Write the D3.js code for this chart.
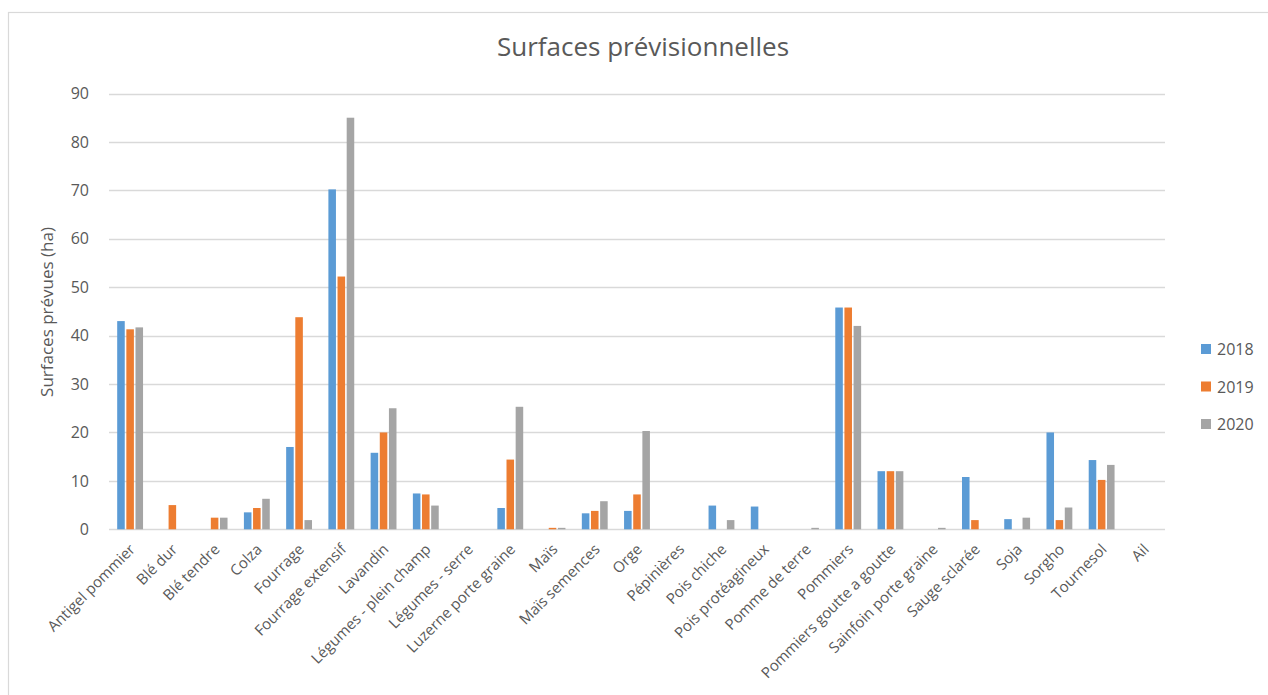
<!DOCTYPE html>
<html>
<head>
<meta charset="utf-8">
<script src="https://cdn.jsdelivr.net/npm/d3@7"></script>
<style>
  html, body { margin: 0; padding: 0; background: #fff; }
  svg { display: block; }
  text { font-family: "Open Sans", "Noto Sans", sans-serif; fill: #595959; }
</style>
</head>
<body>
<svg id="chart" width="1268" height="695"></svg>
<script>
// Cultures (x axis)
const categories = [
  "Antigel pommier", "Blé dur", "Blé tendre", "Colza", "Fourrage",
  "Fourrage extensif", "Lavandin", "Légumes - plein champ", "Légumes - serre",
  "Luzerne porte graine", "Maïs", "Maïs semences", "Orge", "Pépinières",
  "Pois chiche", "Pois protéagineux", "Pomme de terre", "Pommiers",
  "Pommiers goutte a goutte", "Sainfoin porte graine", "Sauge sclarée",
  "Soja", "Sorgho", "Tournesol", "Ail"
];

// Surfaces prévues (ha) par année
const years = ["2018", "2019", "2020"];
const values2018 = [43, 0, 0, 3.5, 17, 70.2, 15.8, 7.4, 0, 4.4, 0, 3.3, 3.8, 0, 4.9, 4.7, 0, 45.8, 12, 0, 10.8, 2.1, 20, 14.3, 0];
const values2019 = [41.3, 5, 2.4, 4.4, 43.8, 52.2, 20, 7.2, 0, 14.4, 0.3, 3.8, 7.2, 0, 0, 0, 0, 45.8, 12, 0, 1.9, 0, 1.9, 10.2, 0];
const values2020 = [41.7, 0, 2.4, 6.3, 1.9, 85, 25, 4.9, 0, 25.3, 0.3, 5.8, 20.3, 0, 1.9, 0, 0.3, 42, 12, 0.3, 0, 2.4, 4.5, 13.3, 0];
const yTicks = [0, 10, 20, 30, 40, 50, 60, 70, 80, 90];

const colors = ["#5B9BD5", "#ED7D31", "#A5A5A5"];
const series = [values2018, values2019, values2020];

const svg = d3.select("#chart");

// chart frame (extends past the right and bottom edges)
svg.append("rect")
  .attr("x", 8.5).attr("y", 12.5)
  .attr("width", 1300).attr("height", 700)
  .attr("fill", "none").attr("stroke", "#D9D9D9").attr("stroke-width", 1.2);

const plot = { left: 109, right: 1165, top: 93.5, bottom: 529.3 };

const x0 = d3.scaleBand()
  .domain(categories)
  .range([plot.left, plot.right])
  .paddingInner(0.35)
  .paddingOuter(0.175);

const x1 = d3.scaleBand()
  .domain(years)
  .range([0, x0.bandwidth()]);

const y = d3.scaleLinear()
  .domain([0, 90])
  .range([plot.bottom, plot.top]);

// horizontal gridlines
svg.append("g")
  .selectAll("line")
  .data(yTicks)
  .join("line")
  .attr("x1", plot.left).attr("x2", plot.right)
  .attr("y1", d => Math.round(y(d)) + 0.5)
  .attr("y2", d => Math.round(y(d)) + 0.5)
  .attr("stroke", "#D9D9D9")
  .attr("stroke-width", 1.3);

// y axis labels
const yAxis = d3.axisLeft(y).tickValues(yTicks).tickSize(0).tickPadding(0);
const gy = svg.append("g")
  .attr("transform", `translate(${plot.left - 20},0)`)
  .call(yAxis);
gy.select(".domain").remove();
gy.selectAll("text")
  .style("font-family", "'Open Sans', sans-serif")
  .style("font-size", "16px")
  .attr("fill", "#595959");

// bars
const groups = svg.append("g")
  .selectAll("g")
  .data(categories)
  .join("g")
  .attr("transform", d => `translate(${x0(d)},0)`);

groups.selectAll("rect")
  .data((c, i) => years.map((yr, k) => ({ yr, k, v: series[k][i] })))
  .join("rect")
  .filter(d => d.v > 0)
  .attr("x", d => x1(d.yr) + 0.8)
  .attr("width", x1.bandwidth() - 1.6)
  .attr("y", d => y(d.v))
  .attr("height", d => y(0) - y(d.v))
  .attr("fill", d => colors[d.k]);

// x axis labels
const xAxis = d3.axisBottom(x0).tickSize(0).tickPadding(0);
const gx = svg.append("g")
  .attr("transform", `translate(0,${plot.bottom})`)
  .call(xAxis);
gx.select(".domain").remove();
gx.selectAll("text")
  .style("font-family", "'Open Sans', sans-serif")
  .style("font-size", "15px")
  .attr("fill", "#595959")
  .attr("text-anchor", "end")
  .attr("dy", null)
  .attr("y", 0)
  .attr("transform", "translate(6,21) rotate(-45)");

// y axis title
svg.append("text")
  .attr("transform", `translate(53,312) rotate(-90)`)
  .attr("text-anchor", "middle")
  .style("font-size", "17px")
  .text("Surfaces prévues (ha)");

// title
svg.append("text")
  .attr("x", 643).attr("y", 56)
  .attr("text-anchor", "middle")
  .style("font-size", "26px")
  .text("Surfaces prévisionnelles");

// legend
const legend = svg.append("g")
  .selectAll("g")
  .data(years)
  .join("g")
  .attr("transform", (d, i) => `translate(1201,${344 + i * 37.5})`);
legend.append("rect")
  .attr("width", 10).attr("height", 10)
  .attr("fill", (d, i) => colors[i]);
legend.append("text")
  .attr("x", 16).attr("y", 11)
  .style("font-size", "16px")
  .text(d => d);
</script>
</body>
</html>
